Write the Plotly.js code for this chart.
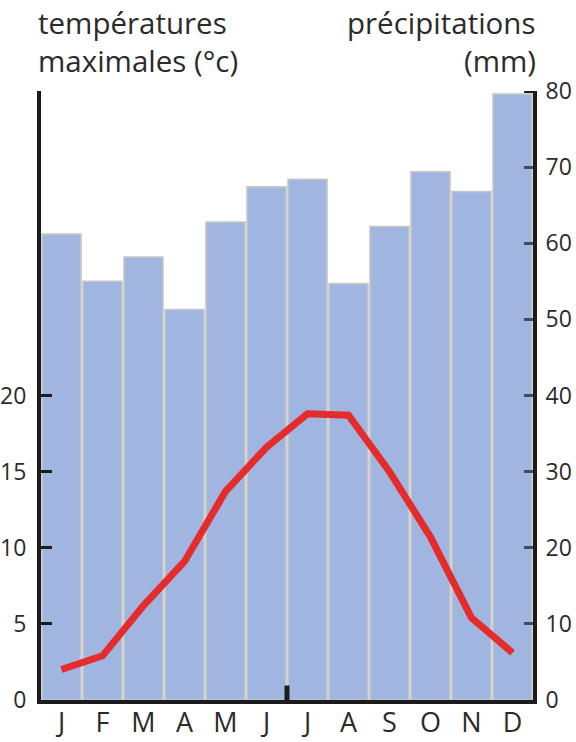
<!DOCTYPE html>
<html>
<head>
<meta charset="utf-8">
<script src="https://cdn.plot.ly/plotly-3.0.1.min.js"></script>
<style>
  html, body { margin: 0; padding: 0; background: #ffffff; }
  #chart { width: 576px; height: 742px; }
</style>
</head>
<body>
<div id="chart"></div>
<script>
// Data
const months = ["J", "F", "M", "A", "M", "J", "J", "A", "S", "O", "N", "D"];
const monthIndex = [0, 1, 2, 3, 4, 5, 6, 7, 8, 9, 10, 11];
const precipitation = [61.2, 55.0, 58.2, 51.3, 62.8, 67.4, 68.4, 54.7, 62.2, 69.4, 66.8, 79.6]; // mm
const tempMax = [2.0, 2.9, 6.2, 9.1, 13.7, 16.6, 18.8, 18.7, 15.0, 10.7, 5.4, 3.1]; // °C
const precipTicks = [0, 10, 20, 30, 40, 50, 60, 70, 80];
const tempTicks = [0, 5, 10, 15, 20];

const FONT = "Open Sans, Noto Sans, sans-serif";
const TXT = "#2b2b2b";

const bars = {
  type: "bar",
  x: monthIndex,
  y: precipitation,
  yaxis: "y",
  marker: { color: "#a0b5df", line: { color: "#c6c6c6", width: 1.6 } },
  hoverinfo: "skip"
};

const line = {
  type: "scatter",
  mode: "lines",
  x: monthIndex,
  y: tempMax,
  yaxis: "y2",
  line: { color: "#e52b2b", width: 7 },
  hoverinfo: "skip"
};

const layout = {
  width: 576,
  height: 742,
  margin: { l: 41, r: 43, t: 91, b: 42 },
  paper_bgcolor: "#ffffff",
  plot_bgcolor: "rgba(0,0,0,0)",
  showlegend: false,
  bargap: 0.05,
  font: { family: FONT, color: TXT },
  xaxis: {
    range: [-0.5, 11.5],
    tickmode: "array",
    tickvals: monthIndex,
    ticktext: months,
    ticks: "",
    showgrid: false,
    zeroline: false,
    showline: true,
    linecolor: "#1c1c1c",
    linewidth: 4,
    tickfont: { family: FONT, size: 27, color: TXT },
    ticklabelstandoff: -4
  },
  yaxis: {
    side: "right",
    range: [0, 80],
    tickmode: "array",
    tickvals: precipTicks,
    ticks: "inside",
    ticklen: 9,
    tickwidth: 3,
    tickcolor: "#3f4a66",
    showgrid: false,
    zeroline: false,
    showline: true,
    linecolor: "#1c1c1c",
    linewidth: 4,
    tickfont: { family: FONT, size: 23, color: TXT },
    ticklabelstandoff: 4
  },
  yaxis2: {
    overlaying: "y",
    side: "left",
    range: [0, 40],
    tickmode: "array",
    tickvals: tempTicks,
    ticks: "inside",
    ticklen: 11,
    tickwidth: 3,
    tickcolor: "#1c1c1c",
    showgrid: false,
    zeroline: false,
    showline: true,
    linecolor: "#1c1c1c",
    linewidth: 4,
    tickfont: { family: FONT, size: 23, color: TXT },
    ticklabelstandoff: 6
  },
  shapes: [
    { type: "line", xref: "x", yref: "y", x0: 5.5, x1: 5.5, y0: 0, y1: 1.9,
      line: { color: "#1c1c1c", width: 5 } },
    { type: "line", xref: "paper", yref: "y", x0: 0.982, x1: 1.004, y0: 80, y1: 80,
      line: { color: "#1c1c1c", width: 4 } }
  ],
  annotations: [
    { xref: "paper", yref: "paper", x: -0.01, y: 1.1133, xanchor: "left", yanchor: "middle",
      text: "températures", showarrow: false, font: { family: FONT, size: 29.5, color: TXT } },
    { xref: "paper", yref: "paper", x: -0.01, y: 1.0509, xanchor: "left", yanchor: "middle",
      text: "maximales (°c)", showarrow: false, font: { family: FONT, size: 29.5, color: TXT } },
    { xref: "paper", yref: "paper", x: 1.0102, y: 1.1133, xanchor: "right", yanchor: "middle",
      text: "précipitations", showarrow: false, font: { family: FONT, size: 29.5, color: TXT } },
    { xref: "paper", yref: "paper", x: 1.0102, y: 1.0509, xanchor: "right", yanchor: "middle",
      text: "(mm)", showarrow: false, font: { family: FONT, size: 29.5, color: TXT } }
  ]
};

Plotly.newPlot("chart", [bars, line], layout, { displayModeBar: false, staticPlot: true });
</script>
</body>
</html>
